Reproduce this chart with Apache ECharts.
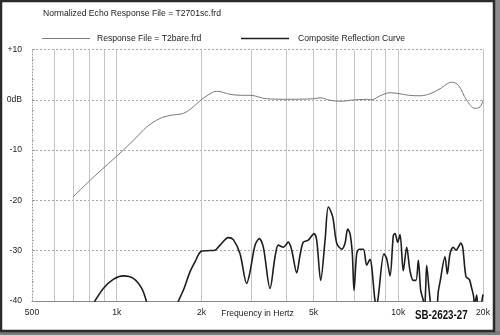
<!DOCTYPE html>
<html>
<head>
<meta charset="utf-8">
<script src="https://cdn.jsdelivr.net/npm/echarts@6/dist/echarts.min.js"></script>
<style>
html,body{margin:0;padding:0;background:#fff;}
#chart{width:500px;height:335px;}
</style>
</head>
<body>
<div id="chart"></div>
<script>
// ---- data ----
const titleText = 'Normalized Echo Response File = T2701sc.frd';
const seriesNames = ['Response File = T2bare.frd', 'Composite Reflection Curve'];

const respFreq = [700, 826, 1055, 1177, 1278, 1425, 1548, 1724, 1871, 1976, 2145, 2265, 2525, 2741, 2975, 3410, 4015, 4992, 5275, 5724, 6298, 6741, 7726, 8050, 8617, 9350, 10146, 10862, 11947, 12968, 14074, 15483, 16345, 17509, 18742, 19525, 20000];
const respDb   = [-19.3, -15.4, -10.0, -7.4, -5.4, -3.7, -3.1, -2.7, -1.4, -0.2, 1.2, 1.7, 1.1, 0.9, 0.9, 0.2, 0.1, 0.2, 0.4, -0.1, -0.3, -0.1, 0.1, 0.0, 0.8, 1.4, 1.2, 0.9, 0.8, 1.2, 2.2, 3.5, 2.9, -0.1, -1.7, -1.4, -0.1];

const compFreq = [830, 896, 972, 1055, 1145, 1227, 1278, 1450,
  1646, 1734, 1820, 1897, 1987, 2088, 2234, 2327, 2491, 2595, 2741, 2896, 2975, 3099, 3210, 3317, 3504, 3650, 3750, 3906, 4069, 4184, 4358, 4477, 4600, 4792, 5021, 5131, 5303, 5495, 5644, 5801, 5881, 6046, 6298, 6470, 6613, 6741, 6868, 6965, 7119, 7272, 7516, 7726, 7936, 8050, 8250, 8372, 8497, 8900, 9099, 9350, 9604, 9737, 9953, 10146, 10420, 10714, 11009, 11309, 11562, 11783, 12016, 12273, 12393, 12513, 12617, 12854, 13016, 13400,
  13784, 13873, 14074, 14659, 14938, 15272, 15688, 16038, 16345, 16668, 16942, 17403, 17878, 18239, 18479, 18616, 18700,
  18760, 18997, 19100, 19400,
  19790, 20000];
const compDb = [-40.3, -37.5, -35.7, -35.0, -35.5, -37.5, -40.3, null,
  -40.3, -37.5, -34.2, -32.2, -30.2, -30.0, -29.9, -28.9, -27.4, -27.8, -30.6, -36.5, -34.2, -28.9, -27.6, -29.3, -37.5, -31.2, -28.9, -29.3, -28.3, -29.9, -34.4, -30.9, -28.3, -27.9, -26.6, -27.9, -35.9, -27.9, -21.3, -22.6, -23.9, -28.5, -29.7, -28.5, -25.7, -26.6, -30.6, -37.9, -30.6, -29.7, -29.7, -32.9, -31.7, -33.2, -39.5, -41.0, -39.0, -30.6, -31.6, -35.0, -27.0, -26.6, -28.3, -26.8, -34.0, -29.3, -34.0, -35.9, -35.9, -31.9, -37.9, -39.9, -42.0, -37.5, -32.9, -37.5, -40.5, null,
  -40.5, -38.2, -36.2, -31.2, -34.6, -30.6, -29.3, -29.9, -29.3, -28.5, -29.3, -35.2, -35.7, -37.5, -38.8, -40.5, null,
  -40.3, -38.8, -40.3, null,
  -40.2, -38.7];

const xLabelValues = [500, 1000, 2000, 5000, 10000, 20000];
const xLabelTexts  = ['500', '1k', '2k', '5k', '10k', '20k'];
const xGridValues  = [600, 700, 800, 900, 1000, 2000, 3000, 4000, 5000, 6000, 7000, 8000, 9000, 10000, 20000];
const yLabelMap    = {'10': '+10', '0': '0dB'};
const xAxisTitle   = 'Frequency in Hertz';
const figureCode   = 'SB-2623-27';

// ---- build ----
const FONT = '"Liberation Sans", Arial, sans-serif';
const FS = 8.6;
const pair = (xs, ys) => xs.map((x, i) => [x, ys[i] === null ? null : ys[i]]);

const chart = echarts.init(document.getElementById('chart'), null, {renderer: 'canvas'});
chart.setOption({
  animation: false,
  backgroundColor: '#fff',
  textStyle: {fontFamily: FONT},
  title: {
    text: titleText, left: 43, top: 9, padding: 0,
    textStyle: {fontFamily: FONT, fontSize: FS, fontWeight: 'normal', color: '#222'}
  },
  legend: [
    {data: [seriesNames[0]], left: 42, top: 34, padding: 0, itemWidth: 48, itemHeight: 1, itemGap: 0, icon: 'rect',
     textStyle: {fontFamily: FONT, fontSize: FS, color: '#222', padding: [0, 0, 0, 2]}},
    {data: [seriesNames[1]], left: 241, top: 34, padding: 0, itemWidth: 48, itemHeight: 1.6, itemGap: 0, icon: 'rect',
     textStyle: {fontFamily: FONT, fontSize: FS, color: '#222', padding: [0, 0, 0, 4]}}
  ],
  grid: {left: 32, top: 49.5, width: 451, height: 251.5, containLabel: false, show: false},
  xAxis: {
    type: 'log', logBase: 10, min: 500, max: 20000,
    name: xAxisTitle, nameLocation: 'middle', nameGap: 8, nameMoveOverlap: false,
    nameTextStyle: {fontFamily: FONT, fontSize: FS, color: '#222'},
    axisLine: {show: true, onZero: false, lineStyle: {color: '#8a8a8a', width: 1}},
    axisTick: {show: false, customValues: xGridValues},
    axisLabel: {
      customValues: xLabelValues, margin: 7,
      fontFamily: FONT, fontSize: FS, color: '#222',
      formatter: v => { const i = xLabelValues.indexOf(Math.round(v)); return i >= 0 ? xLabelTexts[i] : ''; },
      showMinLabel: true, showMaxLabel: true, hideOverlap: false
    },
    splitLine: {show: true, lineStyle: {color: '#c4c4c4', width: 1, type: 'solid'}}
  },
  yAxis: {
    type: 'value', min: -40, max: 10, interval: 10,
    axisLine: {show: true, lineStyle: {color: '#9a9a9a', width: 1, type: [1, 2]}},
    axisTick: {show: true, inside: true, length: 3, lineStyle: {color: '#999'}},
    minorTick: {show: true, splitNumber: 5, length: 2, lineStyle: {color: '#aaa'}},
    axisLabel: {
      margin: 10, fontFamily: FONT, fontSize: FS, color: '#222',
      formatter: v => yLabelMap[String(v)] !== undefined ? yLabelMap[String(v)] : String(v)
    },
    splitLine: {show: true, lineStyle: {color: '#a8a8a8', width: 1, type: [2, 2]}}
  },
  series: [
    {
      name: seriesNames[0], type: 'line', data: pair(respFreq, respDb),
      symbol: 'none', smooth: 0.35, clip: true,
      lineStyle: {color: '#7a7a7a', width: 1}, itemStyle: {color: '#7a7a7a'}
    },
    {
      name: seriesNames[1], type: 'line', data: pair(compFreq, compDb),
      symbol: 'none', smooth: 0.3, clip: true, connectNulls: false,
      lineStyle: {color: '#1e1e1e', width: 1.6}, itemStyle: {color: '#1e1e1e'}
    }
  ],
  graphic: [
    {type: 'rect', silent: true, z: 100, shape: {x: 494, y: 0, width: 6, height: 335}, style: {fill: '#8c8c8c'}},
    {type: 'rect', silent: true, z: 100, shape: {x: 0, y: 331, width: 500, height: 4}, style: {fill: '#7a7a7a'}},
    {type: 'rect', silent: true, z: 101, shape: {x: 1, y: 1, width: 493, height: 330}, style: {fill: 'none', stroke: '#2a2a2a', lineWidth: 2.5}},
    {type: 'text', silent: true, z: 50, x: 415, y: 309, scaleX: 0.75,
     style: {text: figureCode, font: 'bold 13px ' + FONT, fill: '#111'}}
  ]
});
</script>
</body>
</html>
